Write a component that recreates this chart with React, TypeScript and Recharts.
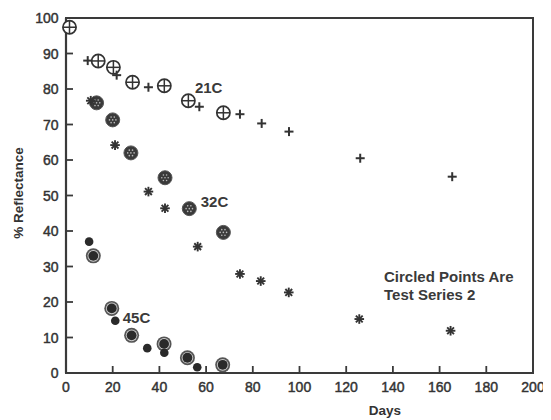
import React from 'react';
import { ScatterChart, Scatter, XAxis, YAxis, ReferenceArea, Label } from 'recharts';

const xTicks = [0, 20, 40, 60, 80, 100, 120, 140, 160, 180, 200];
const yTicks = [0, 10, 20, 30, 40, 50, 60, 70, 80, 90, 100];

const days21S1 = [9.3, 21.7, 35.3, 57.1, 74.5, 83.8, 95.5, 126, 165.4];
const refl21S1 = [88, 83.9, 80.5, 75, 72.9, 70.3, 68, 60.5, 55.3];
const days21S2 = [1.5, 13.8, 20.3, 28.5, 42.1, 52.4, 67.4];
const refl21S2 = [97.4, 87.9, 86.1, 81.9, 80.9, 76.7, 73.3];

const days32S1 = [10.6, 21, 35.3, 42.4, 56.4, 74.5, 83.4, 95.4, 125.6, 164.7];
const refl32S1 = [76.7, 64.2, 51.1, 46.4, 35.6, 27.9, 25.9, 22.7, 15.2, 11.9];
const days32S2 = [13.1, 20, 27.8, 42.4, 52.8, 67.4];
const refl32S2 = [76.1, 71.3, 62, 55, 46.3, 39.6];

const days45S1 = [9.9, 21.1, 34.8, 42.1, 56.2];
const refl45S1 = [37, 14.7, 7, 5.7, 1.6];
const days45S2 = [11.7, 19.6, 28.1, 42, 52, 67.1];
const refl45S2 = [33, 18.2, 10.6, 8.2, 4.3, 2.3];

const noteTexts = ['21C', '32C', '45C', 'Circled Points Are', 'Test Series 2'];
const noteDays = [55.2, 57.7, 24.3, 136.2, 136.2];
const noteRefl = [80.3, 48.3, 15.5, 27, 22];

const zip = (xs: number[], ys: number[]) => xs.map((x, i) => ({ x, y: ys[i] }));
const notes = noteTexts.map((t, i) => ({ x: noteDays[i], y: noteRefl[i], t }));

const FONT = '"Liberation Sans", Arial, Helvetica, sans-serif';
const INK = '#333';

const PlusCircle = (p: any) => (
  <g>
    <circle cx={p.cx} cy={p.cy} r={6.6} fill="#fff" stroke={INK} strokeWidth={1.7} />
    <line x1={p.cx - 6.6} x2={p.cx + 6.6} y1={p.cy} y2={p.cy} stroke={INK} strokeWidth={1.5} />
    <line x1={p.cx} x2={p.cx} y1={p.cy - 6.6} y2={p.cy + 6.6} stroke={INK} strokeWidth={1.5} />
  </g>
);

const Plus = (p: any) => (
  <g>
    <line x1={p.cx - 4.5} x2={p.cx + 4.5} y1={p.cy} y2={p.cy} stroke={INK} strokeWidth={2} />
    <line x1={p.cx} x2={p.cx} y1={p.cy - 4.5} y2={p.cy + 4.5} stroke={INK} strokeWidth={2} />
  </g>
);

const Star = (p: any) => {
  const r = 4.8;
  const angs = [0, 45, 90, 135];
  return (
    <g>
      {angs.map((a) => {
        const dx = r * Math.cos((a * Math.PI) / 180);
        const dy = r * Math.sin((a * Math.PI) / 180);
        return <line key={a} x1={p.cx - dx} x2={p.cx + dx} y1={p.cy - dy} y2={p.cy + dy} stroke={INK} strokeWidth={1.9} />;
      })}
    </g>
  );
};

const StarCircle = (p: any) => {
  const dots = [0, 60, 120, 180, 240, 300];
  return (
    <g>
      <circle cx={p.cx} cy={p.cy} r={7} fill="#3a3a3a" stroke="#555" strokeWidth={1} />
      {dots.map((a) => (
        <circle key={a} cx={p.cx + 3.2 * Math.cos((a * Math.PI) / 180)} cy={p.cy + 3.2 * Math.sin((a * Math.PI) / 180)} r={0.8} fill="#bbb" />
      ))}
      <circle cx={p.cx} cy={p.cy} r={0.8} fill="#bbb" />
    </g>
  );
};

const RingDot = (p: any) => (
  <g>
    <circle cx={p.cx} cy={p.cy} r={7.5} fill="#555" />
    <circle cx={p.cx} cy={p.cy} r={5.8} fill="#ccc" />
    <circle cx={p.cx} cy={p.cy} r={4.9} fill="#2a2a2a" />
  </g>
);

const Dot = (p: any) => <circle cx={p.cx} cy={p.cy} r={4.3} fill="#2a2a2a" />;

const Note = (p: any) => (
  <text x={p.cx} y={p.cy} dy={5} textAnchor="start" fontFamily={FONT} fontSize={15} fontWeight="bold" fill="#3a3a3a">
    {p.payload.t}
  </text>
);

const YTick = (p: any) => {
  const { x, y, payload } = p;
  return (
    <g>
      {payload.value > 0 && payload.value < 100 && (
        <line x1={x} x2={x + 7} y1={y} y2={y} stroke="#3a3a3a" strokeWidth={1.8} />
      )}
      <text x={x - 7.5} y={y} dy={5} textAnchor="end" fontFamily={FONT} fontSize={14} fill={INK} stroke={INK} strokeWidth={0.45}>
        {payload.value}
      </text>
    </g>
  );
};

const XTick = (p: any) => {
  const { x, y, payload } = p;
  return (
    <g>
      {payload.value > 0 && payload.value < 200 && (
        <line x1={x} x2={x} y1={y} y2={y - 7} stroke="#3a3a3a" strokeWidth={1.8} />
      )}
      <text x={x} y={y} dy={19} textAnchor="middle" fontFamily={FONT} fontSize={14} fill={INK} stroke={INK} strokeWidth={0.45}>
        {payload.value}
      </text>
    </g>
  );
};

const DaysLabel = (p: any) => {
  const vb = p.viewBox || {};
  return (
    <text x={377} y={(vb.y || 365) + 42} textAnchor="middle" fontFamily={FONT} fontSize={13.5} fontWeight="bold" fill={INK}>
      Days
    </text>
  );
};

const YLabel = (p: any) => (
  <text x={10} y={185} transform="rotate(-90 10 185)" dy={5} textAnchor="middle" fontFamily={FONT} fontSize={13.5} fontWeight="bold" fill={INK}>
    % Reflectance
  </text>
);

export default function App() {
  return (
    <ScatterChart width={543} height={412} margin={{ top: 10, right: 18, left: 0, bottom: 0 }}>
      <XAxis
        type="number"
        dataKey="x"
        domain={[0, 200]}
        ticks={xTicks}
        interval={0}
        height={47}
        tickSize={0}
        tickMargin={0}
        tickLine={false}
        axisLine={{ stroke: '#3a3a3a', strokeWidth: 2.2 }}
        tick={<XTick />}
      >
        <Label content={<DaysLabel />} />
      </XAxis>
      <YAxis
        type="number"
        dataKey="y"
        domain={[0, 100]}
        ticks={yTicks}
        interval={0}
        width={58}
        tickSize={0}
        tickMargin={0}
        tickLine={false}
        axisLine={{ stroke: '#3a3a3a', strokeWidth: 2.2 }}
        tick={<YTick />}
      >
        <Label content={<YLabel />} />
      </YAxis>
      <ReferenceArea x1={0} x2={200} y1={0} y2={100} fill="none" stroke="#3a3a3a" strokeWidth={2} />
      <Scatter data={zip(days21S2, refl21S2)} shape={<PlusCircle />} isAnimationActive={false} />
      <Scatter data={zip(days21S1, refl21S1)} shape={<Plus />} isAnimationActive={false} />
      <Scatter data={zip(days32S2, refl32S2)} shape={<StarCircle />} isAnimationActive={false} />
      <Scatter data={zip(days32S1, refl32S1)} shape={<Star />} isAnimationActive={false} />
      <Scatter data={zip(days45S2, refl45S2)} shape={<RingDot />} isAnimationActive={false} />
      <Scatter data={zip(days45S1, refl45S1)} shape={<Dot />} isAnimationActive={false} />
      <Scatter data={notes} shape={<Note />} isAnimationActive={false} />
    </ScatterChart>
  );
}
